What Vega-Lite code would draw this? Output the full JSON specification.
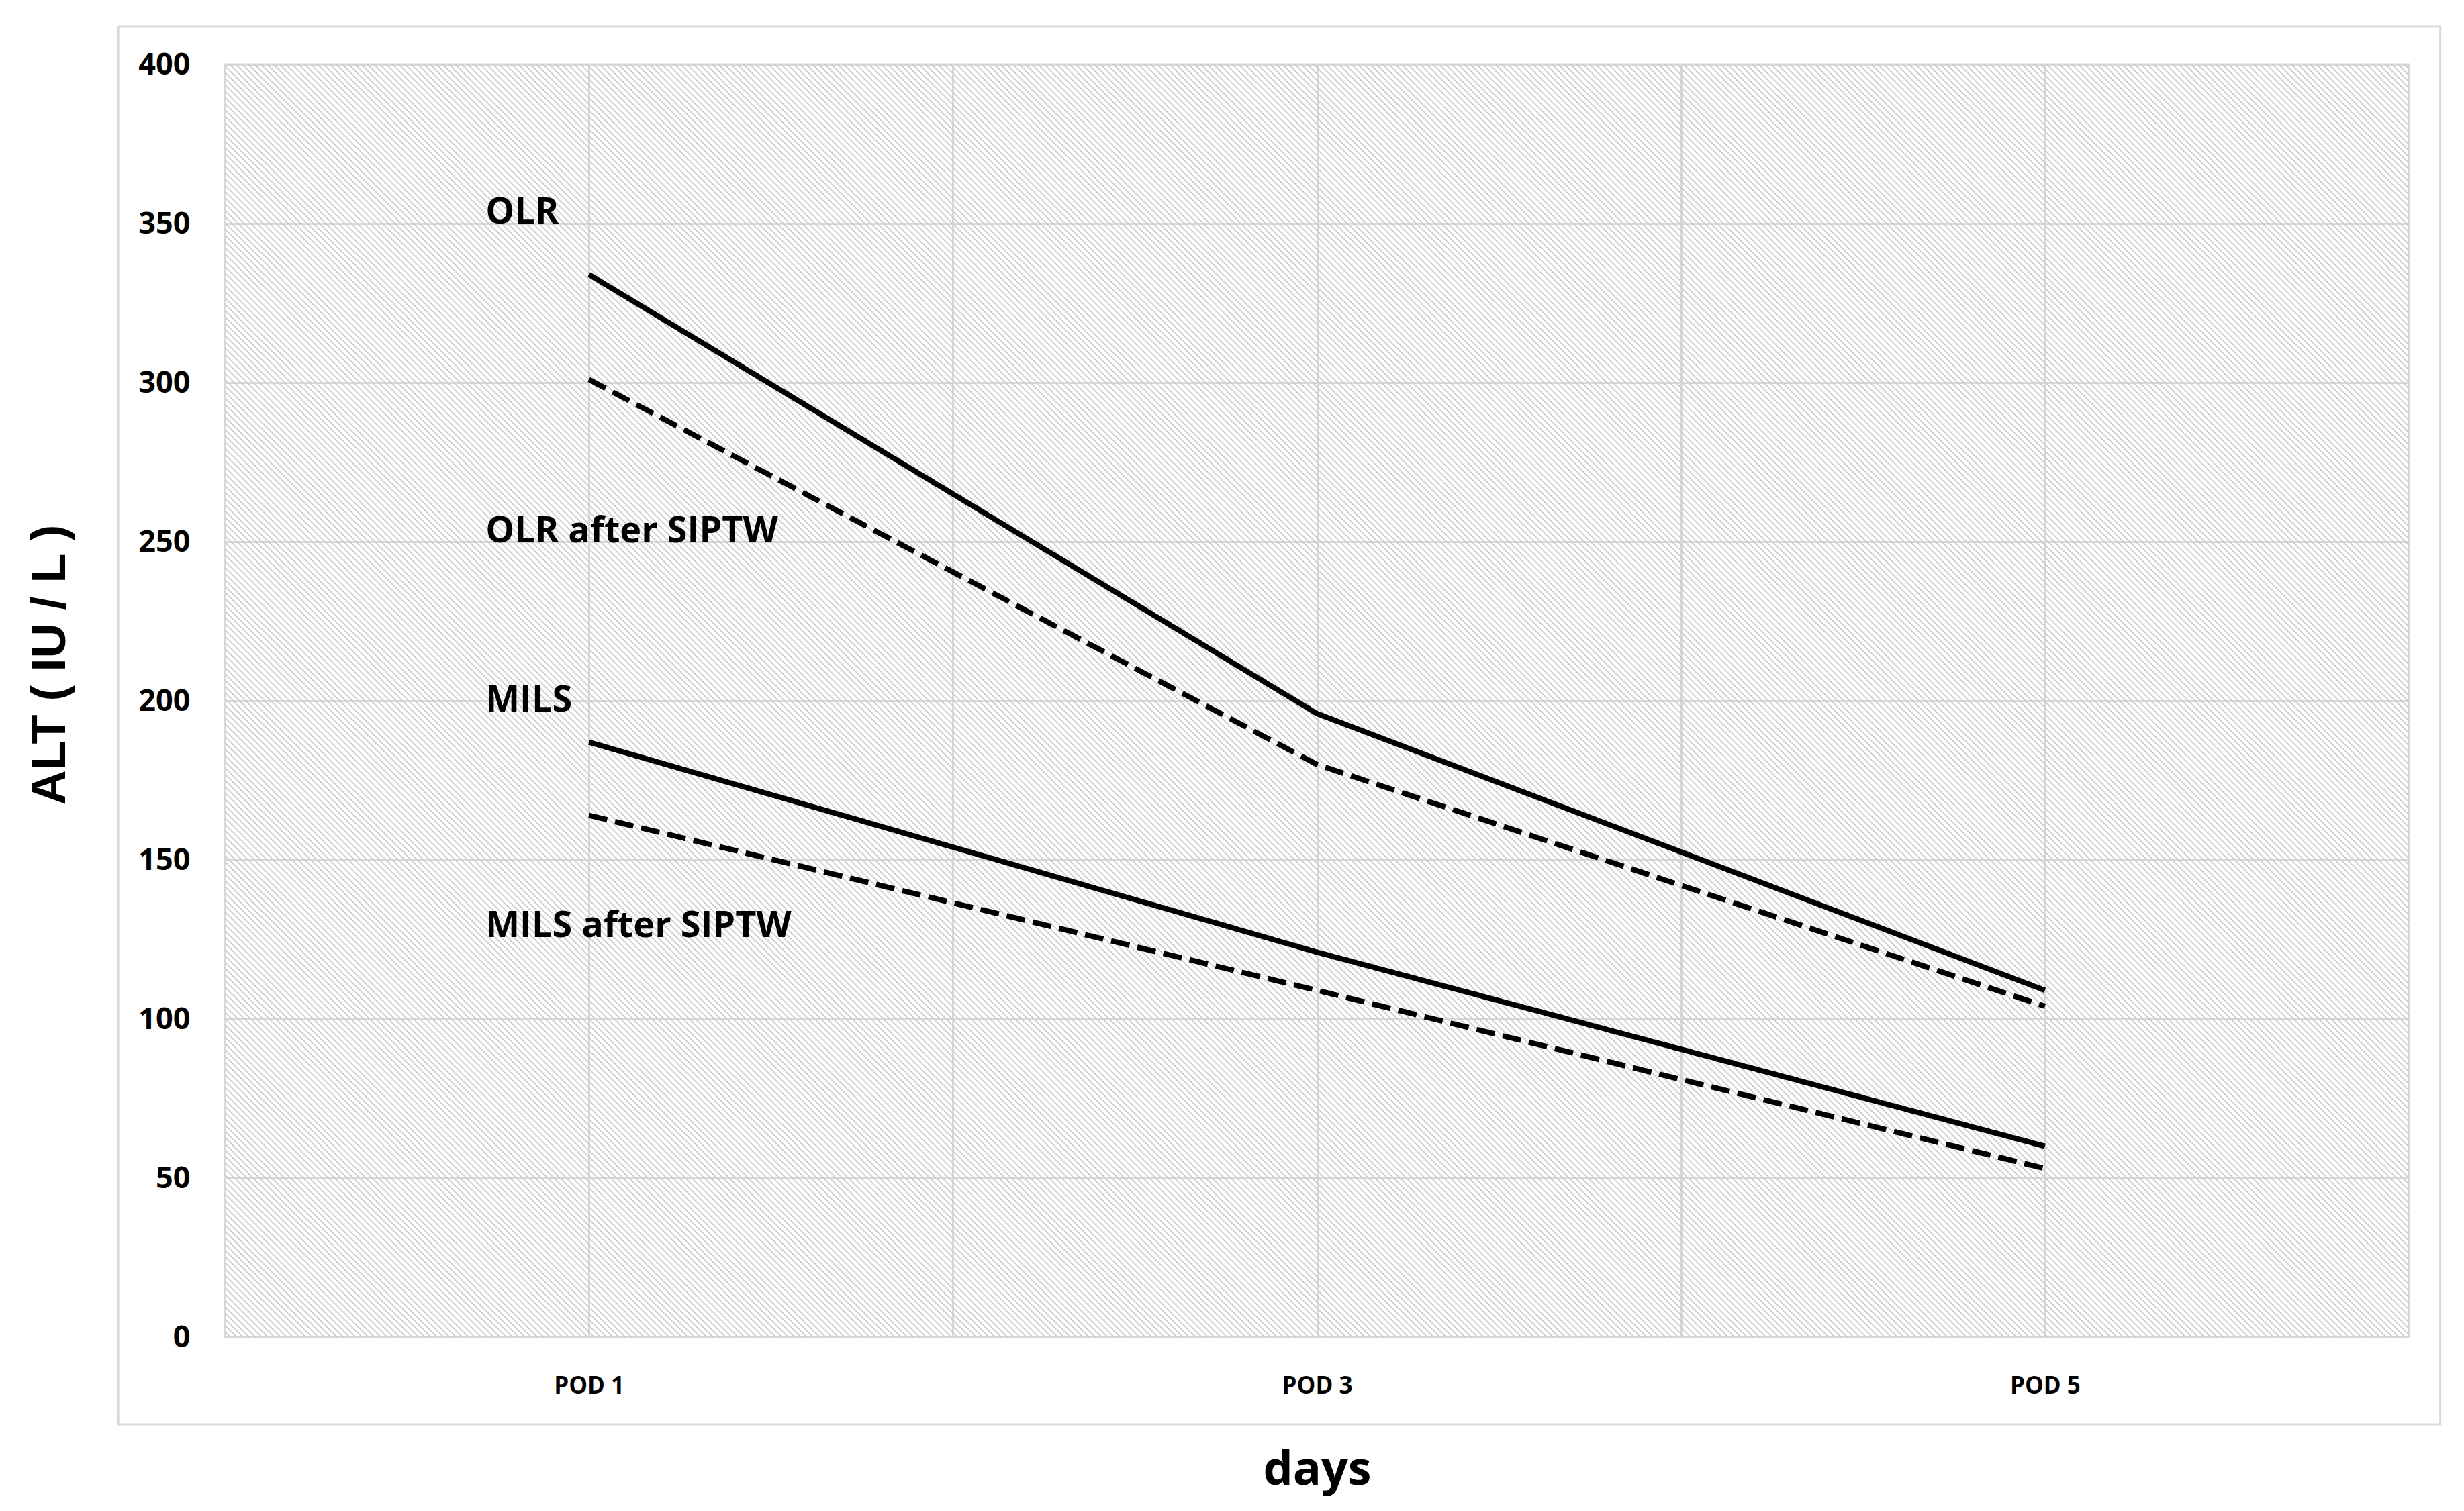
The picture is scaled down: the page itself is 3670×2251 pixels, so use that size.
{
  "$schema": "https://vega.github.io/schema/vega-lite/v6.json",
  "width": 3253,
  "height": 1896,
  "autosize": {"type": "none"},
  "padding": {"left": 335, "top": 96, "right": 82, "bottom": 259},
  "background": "white",
  "config": {
    "view": {"stroke": "#d9d9d9", "strokeWidth": 3},
    "axis": {
      "grid": true,
      "gridColor": "#d9d9d9",
      "gridWidth": 3,
      "domain": false,
      "ticks": false,
      "labelFont": "Open Sans",
      "labelFontWeight": "bold",
      "labelColor": "#000000",
      "titleColor": "#000000"
    }
  },
  "datasets": {
    "series": [
      {"series": "OLR", "weighting": "crude", "day": 1, "alt": 334},
      {"series": "OLR", "weighting": "crude", "day": 3, "alt": 196},
      {"series": "OLR", "weighting": "crude", "day": 5, "alt": 109},
      {"series": "OLR after SIPTW", "weighting": "SIPTW", "day": 1, "alt": 301},
      {"series": "OLR after SIPTW", "weighting": "SIPTW", "day": 3, "alt": 180},
      {"series": "OLR after SIPTW", "weighting": "SIPTW", "day": 5, "alt": 104},
      {"series": "MILS", "weighting": "crude", "day": 1, "alt": 187},
      {"series": "MILS", "weighting": "crude", "day": 3, "alt": 121},
      {"series": "MILS", "weighting": "crude", "day": 5, "alt": 60},
      {"series": "MILS after SIPTW", "weighting": "SIPTW", "day": 1, "alt": 164},
      {"series": "MILS after SIPTW", "weighting": "SIPTW", "day": 3, "alt": 109},
      {"series": "MILS after SIPTW", "weighting": "SIPTW", "day": 5, "alt": 53}
    ],
    "labels": [
      {"label": "OLR", "day": 0.716, "alt": 350},
      {"label": "OLR after SIPTW", "day": 0.716, "alt": 249.8},
      {"label": "MILS", "day": 0.716, "alt": 196.6},
      {"label": "MILS after SIPTW", "day": 0.716, "alt": 125.7}
    ]
  },
  "encoding": {
    "x": {
      "type": "quantitative",
      "scale": {"domain": [0, 6], "nice": false, "zero": false},
      "axis": {
        "title": "days",
        "grid": true,
        "values": [0, 1, 2, 3, 4, 5, 6],
        "labelExpr": "datum.value % 2 == 1 ? 'POD ' + datum.value : ''",
        "labelFontSize": 35,
        "labelPadding": 55,
        "titleFont": "Open Sans",
        "titleFontWeight": "bold",
        "titleFontSize": 70,
        "titlePadding": 74
      }
    },
    "y": {
      "type": "quantitative",
      "scale": {"domain": [0, 400], "nice": false},
      "axis": {
        "title": "ALT ( IU / L )",
        "grid": true,
        "values": [0, 50, 100, 150, 200, 250, 300, 350, 400],
        "labelFontSize": 45,
        "labelPadding": 52,
        "titleFont": "Liberation Sans",
        "titleFontWeight": "bold",
        "titleFontSize": 72,
        "titlePadding": 94,
        "titleY": 894
      }
    }
  },
  "layer": [
    {
      "data": {"values": [{"part": "plot area hatch"}]},
      "mark": {"type": "rule", "clip": true, "color": "#cbcbcb", "strokeWidth": 3800, "strokeDash": [1.8, 4.8], "strokeCap": "butt"},
      "encoding": {
        "x": {"datum": -1.795},
        "x2": {"datum": 7.795},
        "y": {"datum": -348.5},
        "y2": {"datum": 748.5}
      }
    },
    {
      "data": {"name": "series"},
      "mark": {"type": "line", "color": "#000000", "strokeWidth": 8, "strokeCap": "butt"},
      "encoding": {
        "x": {"field": "day"},
        "y": {"field": "alt"},
        "detail": {"field": "series", "type": "nominal"},
        "strokeDash": {
          "field": "weighting",
          "type": "nominal",
          "scale": {"domain": ["crude", "SIPTW"], "range": [[1, 0], [28, 12]]},
          "legend": null
        }
      }
    },
    {
      "data": {"name": "labels"},
      "mark": {"type": "text", "align": "left", "baseline": "alphabetic", "font": "Open Sans", "fontWeight": "bold", "fontSize": 54, "color": "#000000"},
      "encoding": {
        "x": {"field": "day"},
        "y": {"field": "alt"},
        "text": {"field": "label"}
      }
    },
    {
      "data": {"values": [{"part": "chart frame"}]},
      "mark": {"type": "rect", "clip": false, "fill": null, "fillOpacity": 0, "stroke": "#d9d9d9", "strokeWidth": 3},
      "encoding": {
        "x": {"datum": -0.293},
        "x2": {"datum": 6.086},
        "y": {"datum": -27.4},
        "y2": {"datum": 412}
      }
    }
  ]
}
